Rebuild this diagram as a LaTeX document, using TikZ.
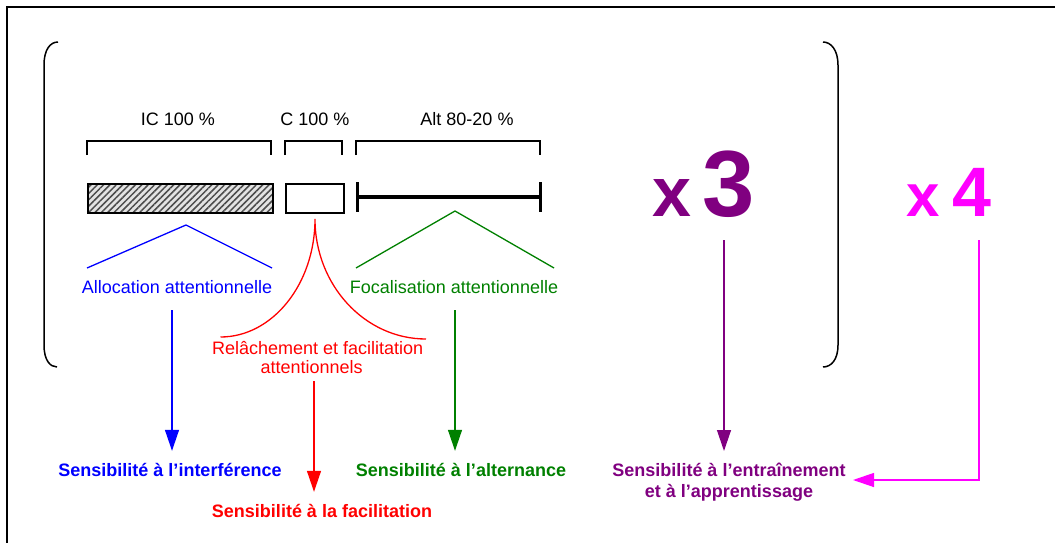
\documentclass[tikz,border=0pt]{standalone}
\usepackage{fontspec}
\setmainfont{Liberation Sans}
\usetikzlibrary{arrows.meta,patterns.meta}
\definecolor{cBlue}{RGB}{0,0,255}
\definecolor{cRed}{RGB}{255,0,0}
\definecolor{cGreen}{RGB}{0,128,0}
\definecolor{cPurple}{RGB}{128,0,128}
\definecolor{cMag}{RGB}{255,0,255}
\tikzset{
  lbl/.style={inner sep=0pt, font=\fontsize{18}{20}\selectfont, text height=14pt, text depth=4pt, anchor=base},
  blbl/.style={lbl, font=\fontsize{18}{21}\selectfont\bfseries},
  thin line/.style={line width=1.3pt},
  arr/.style={line width=1.3pt, -{Triangle[length=21pt,width=14pt]}},
  bracketline/.style={line width=1.2pt, line join=miter},
  frameline/.style={line width=1.6pt},
  bigpar/.style={line width=1.5pt}
}
\begin{document}
\begin{tikzpicture}[x=1pt,y=-1pt]
\useasboundingbox (0,0) rectangle (1055,543);
% frame (top and left only)
\draw[frameline] (7,543) -- (7,7) -- (1055,7);
% big parentheses
\draw[bigpar] (58,42) .. controls (50,42) and (44,50) .. (44,65) -- (44,345) .. controls (44,360) and (50,367) .. (57,367);
\draw[bigpar] (823,42) .. controls (831,42) and (838,50) .. (838,65) -- (838,345) .. controls (838,360) and (831,367) .. (823,367);
% top labels
\node[lbl] (ic) at (178,125) {IC 100 \%};
\node[lbl] (c) at (315,125) {C 100 \%};
\node[lbl] (alt) at (467,125) {Alt 80-20 \%};
% brackets
\draw[bracketline] (87,155) -- (87,141) -- (271,141) -- (271,155);
\draw[bracketline] (285,155) -- (285,141) -- (342,141) -- (342,155);
\draw[bracketline] (356,155) -- (356,141) -- (540,141) -- (540,155);
% bars
\node[draw, line width=2pt, minimum width=185pt, minimum height=29pt, inner sep=0pt, anchor=north west,
      preaction={fill=gray!22}, pattern={Lines[angle=45,distance=4.5pt,line width=1.5pt]}, pattern color=black!70]
      (icbar) at (87,183) {};
\node[draw, line width=2pt, fill=white, minimum width=58pt, minimum height=29pt, inner sep=0pt, anchor=north west]
      (cbar) at (285,183) {};
\coordinate (altL) at (357,197);
\coordinate (altR) at (540,197);
\draw[line width=4pt] (altL) -- (altR);
\draw[line width=3pt] (357,182) -- (357,212);
\draw[line width=3pt] (540,182) -- (540,212);
% carets
\draw[thin line, cBlue] (87,268) -- (186,225) -- (272,268);
\draw[thin line, cGreen] (356,268) -- (455,211) -- (554,268);
\draw[thin line, cRed] (220.5,337) .. controls (272.5,337) and (315,284) .. (315,219)
      .. controls (315,285) and (364.7,339) .. (426,339);
% middle labels
\node[lbl, cBlue] (alloc) at (177,293) {Allocation attentionnelle};
\node[lbl, cGreen] (foc) at (454,293) {Focalisation attentionnelle};
\node[inner sep=0pt, font=\fontsize{18}{19.5}\selectfont, align=center, cRed, anchor=base] (rel) at (317.7,373.5)
      {Relâchement et facilitation\\attentionnels\hspace*{12pt}};
% big multipliers
\node[inner sep=0pt, anchor=base, cPurple, font=\fontsize{70}{70}\selectfont\bfseries] (x3a) at (672,216) {x};
\node[inner sep=0pt, anchor=base, cPurple, font=\fontsize{94}{94}\selectfont\bfseries] (x3) at (729,216) {3};
\node[inner sep=0pt, anchor=base, cMag, font=\fontsize{60}{60}\selectfont\bfseries] (x4a) at (923,216) {x};
\node[inner sep=0pt, anchor=base, cMag, font=\fontsize{70}{70}\selectfont\bfseries] (x4) at (971.5,216) {4};
% bottom labels
\node[blbl, cBlue] (sI) at (170,476) {Sensibilité à l’interférence};
\node[blbl, cGreen] (sA) at (461,476) {Sensibilité à l’alternance};
\node[blbl, cRed] (sF) at (322,517) {Sensibilité à la facilitation};
\node[inner sep=0pt, align=center, cPurple, font=\fontsize{18}{21}\selectfont\bfseries, anchor=base] (sE) at (729,497)
      {Sensibilité à l’entraînement\\et à l’apprentissage};
% arrows
\coordinate (bS) at (172,310);
\coordinate (gS) at (455,310);
\coordinate (rS) at (314,381);
\coordinate (pS) at (724,240);
\coordinate (pE) at (724,451);
\coordinate (mS) at (979,240);
\coordinate (mC) at (979,480);
\coordinate (mE) at (853,480);
\draw[arr, cBlue, shorten >=11pt] (bS) -- (bS |- sI.north);
\draw[arr, cGreen, shorten >=11pt] (gS) -- (gS |- sA.north);
\draw[arr, cRed, shorten >=11pt] (rS) -- (rS |- sF.north);
\draw[arr, cPurple] (pS) -- (pE);
\draw[arr, cMag] (mS) -- (mC) -- (mE);
\end{tikzpicture}
\end{document}
